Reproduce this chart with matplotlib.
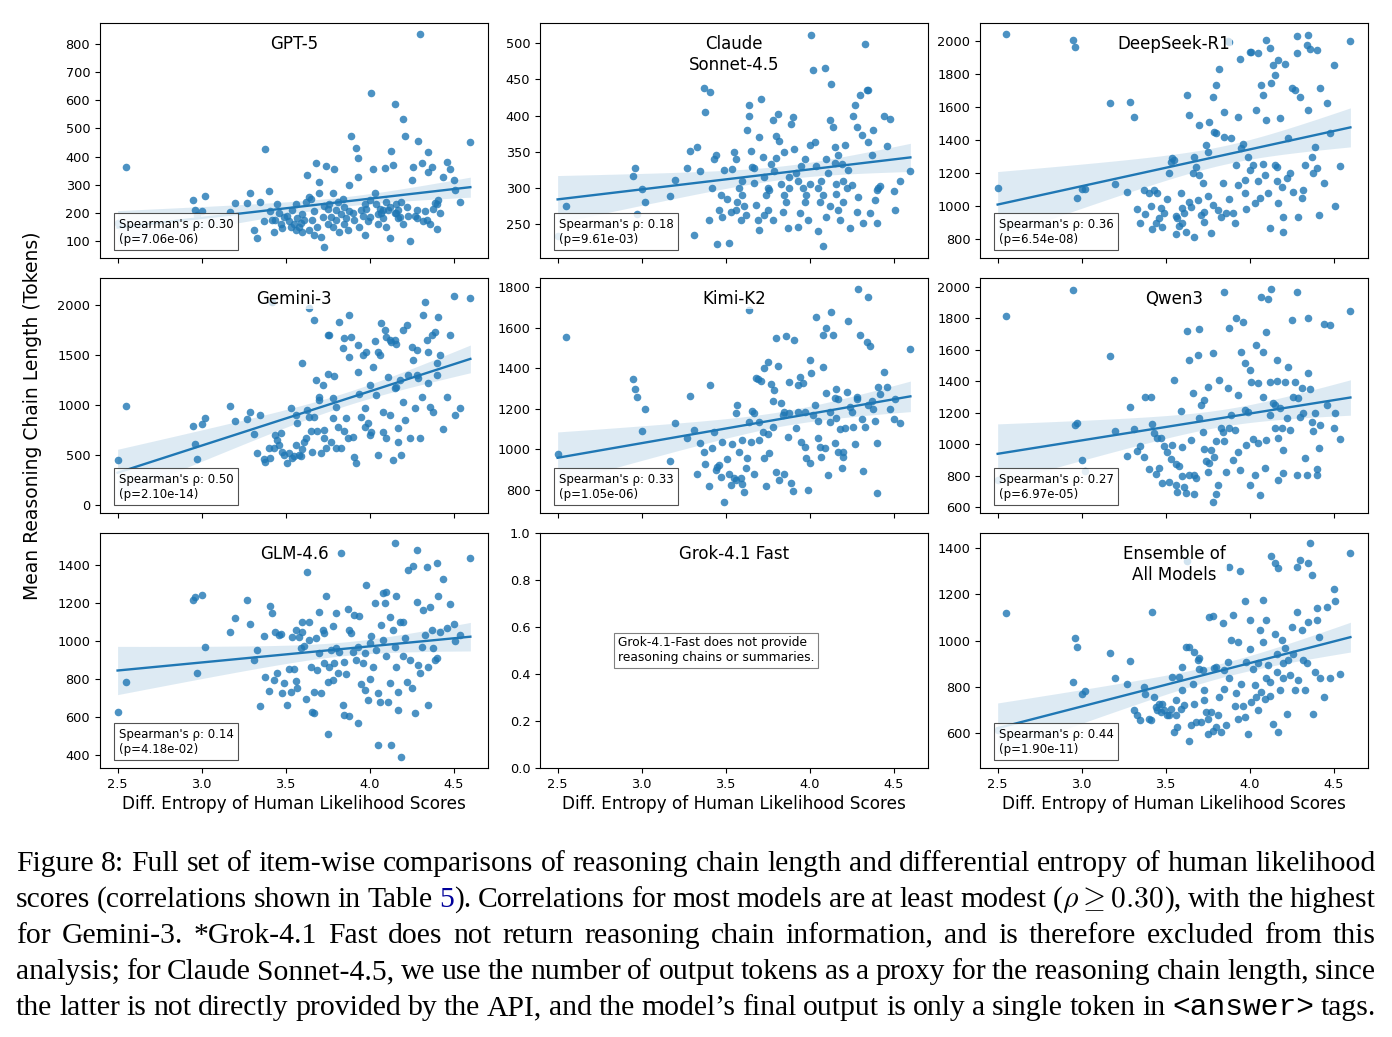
import numpy as np
import matplotlib
matplotlib.use("Agg")
import matplotlib.pyplot as plt

plt.rcParams["mathtext.fontset"] = "cm"

# differential entropy of human likelihood scores, one value per item (shared by all models)
entropy = [
    2.50, 2.55, 2.95, 2.96, 2.97, 3.00, 3.02, 3.17, 3.20, 3.27, 3.29, 3.31,
    3.33, 3.35, 3.37, 3.38, 3.40, 3.41, 3.42, 3.43, 3.44, 3.45, 3.46, 3.47, 3.48, 3.49,
    3.51, 3.52, 3.53, 3.54, 3.55, 3.56, 3.56, 3.57, 3.58, 3.59, 3.60, 3.60, 3.61, 3.62,
    3.63, 3.64, 3.64, 3.65, 3.66, 3.67, 3.67, 3.68, 3.69, 3.70, 3.70, 3.71, 3.72, 3.73, 3.73, 3.74, 3.75, 3.75,
    3.76, 3.77, 3.78, 3.78, 3.79, 3.80, 3.80, 3.81, 3.82, 3.83, 3.84, 3.85, 3.85, 3.86, 3.87, 3.88, 3.88,
    3.89, 3.90, 3.91, 3.92, 3.93, 3.93, 3.94, 3.95, 3.96, 3.97, 3.97, 3.98, 3.99, 4.00, 4.00,
    4.01, 4.02, 4.03, 4.04, 4.05, 4.05, 4.06, 4.07, 4.08, 4.08, 4.09, 4.10, 4.10, 4.11, 4.12, 4.12,
    4.13, 4.14, 4.15, 4.15, 4.16, 4.16, 4.17, 4.17, 4.18, 4.19, 4.20, 4.20, 4.21, 4.22, 4.23, 4.24,
    4.25, 4.26, 4.27, 4.28, 4.28, 4.29, 4.30, 4.31, 4.32, 4.33, 4.34, 4.35, 4.35, 4.36,
    4.37, 4.38, 4.39, 4.40, 4.40, 4.41, 4.42, 4.44, 4.46, 4.48,
    4.50, 4.51, 4.54, 4.60,
]

# mean reasoning chain length (tokens) per item, same order as entropy
gpt5 = [
    165, 362, 246, 210, 192, 207, 261, 201, 234, 236, 272, 139,
    110, 239, 172, 426, 279, 205, 175, 133, 175, 232, 200, 160, 145, 185,
    190, 170, 150, 210, 160, 140, 230, 180, 150, 165, 130, 195, 175, 240,
    335, 255, 140, 250, 175, 205, 120, 376, 150, 311, 270, 113, 185, 78, 225, 367, 160, 215,
    230, 185, 270, 150, 356, 210, 175, 240, 130, 195, 250, 160, 220, 180, 140, 300, 205,
    473, 200, 175, 429, 394, 329, 150, 210, 190, 230, 120, 215, 170, 245, 185,
    625, 355, 270, 230, 195, 160, 215, 200, 210, 180, 358, 240, 150, 210, 220, 110,
    418, 370, 587, 200, 230, 200, 210, 180, 185, 240, 534, 160, 473, 220, 190, 98,
    317, 364, 190, 210, 180, 457, 835, 378, 170, 205, 175, 415, 346, 160,
    364, 215, 233, 141, 230, 246, 200, 326, 382, 355,
    317, 280, 240, 451,
]
claude = [
    233, 275, 316, 328, 264, 298, 281, 289, 311, 328, 351, 235,
    357, 324, 438, 405, 255, 433, 300, 340, 345, 222, 270, 290, 260, 325,
    285, 224, 266, 326, 350, 340, 269, 280, 300, 255, 310, 290, 275, 262,
    380, 415, 400, 351, 329, 328, 307, 276, 256, 242, 371, 423, 343, 262, 315, 290, 270, 300,
    297, 333, 256, 394, 324, 372, 342, 402, 365, 306, 267, 290, 350, 280, 245, 315, 300,
    389, 398, 354, 320, 310, 246, 265, 330, 300, 280, 340, 290, 255, 360, 305,
    512, 463, 364, 330, 241, 300, 280, 310, 219, 290, 466, 340, 260, 320, 394, 275,
    444, 384, 357, 334, 306, 292, 345, 269, 255, 333, 310, 280, 360, 300, 325, 244,
    304, 400, 414, 384, 267, 288, 428, 373, 251, 499, 435, 436, 364, 265,
    345, 380, 283, 251, 297, 300, 303, 400, 358, 395,
    296, 270, 310, 324,
]
deepseek = [
    1107, 2042, 2006, 1966, 1046, 1101, 1101, 1622, 1133, 1087, 1632, 1537,
    980, 900, 1100, 950, 1080, 1000, 860, 1100, 900, 1080, 930, 990, 870, 960,
    1040, 1198, 1269, 1289, 1279, 940, 830, 930, 880, 1080, 990, 900, 960, 840,
    1673, 1551, 1026, 996, 1198, 814, 1299, 1238, 1036, 1188, 1491, 945, 1137, 966, 905, 1370, 1329, 1060,
    1511, 834, 1006, 1663, 1446, 1440, 1733, 976, 1828, 935, 1137, 1572, 1420, 960, 2002, 1992, 1040,
    1410, 955, 895, 1248, 1541, 1127, 1891, 1350, 1376, 1160, 1080, 980, 1300, 1931, 1220,
    1931, 1248, 1016, 1582, 1925, 1150, 1050, 1733, 1673, 1255, 1188, 1521, 2006, 1077, 865, 1956,
    1743, 1854, 1794, 1250, 1150, 1238, 1020, 1885, 1531, 1117, 931, 844, 1861, 1172, 1410, 1200,
    1717, 1087, 1703, 1925, 2030, 935, 1659, 1050, 1100, 1250, 1976, 1582, 2036, 1949,
    1300, 1200, 1360, 1228, 1945, 945, 1713, 1137, 1622, 1444,
    1854, 1000, 1242, 2002,
]
gemini = [
    450, 990, 790, 610, 457, 810, 867, 990, 840, 860, 933, 707,
    523, 900, 460, 430, 567, 470, 2030, 567, 700, 650, 600, 723, 533, 500,
    420, 520, 967, 470, 490, 600, 900, 817, 500, 490, 560, 1417, 630, 670,
    950, 883, 1967, 740, 533, 1850, 883, 1250, 740, 1083, 1050, 517, 1200, 750, 667, 567, 1700, 1307,
    1700, 633, 867, 1067, 1293, 567, 983, 783, 1833, 567, 1573, 1667, 740, 867, 667, 1900, 1480,
    1683, 683, 483, 417, 1333, 1600, 1107, 883, 1500, 783, 967, 1533, 817, 700, 1200,
    733, 1383, 1643, 1100, 1527, 500, 1500, 1817, 733, 933, 1750, 1683, 667, 1283, 1650, 900,
    1633, 450, 1167, 1650, 1607, 1180, 633, 767, 1250, 500, 1033, 1750, 850, 1800, 1300, 667,
    1583, 1450, 967, 1550, 1300, 1267, 667, 1083, 1900, 2033, 1650, 1533, 1217, 983,
    1700, 933, 1733, 1417, 1300, 1883, 1500, 760, 1083, 1700,
    2093, 900, 973, 2067,
]
kimi = [
    976, 1552, 1345, 1298, 1257, 1091, 1197, 943, 1132, 1055, 1265, 1096,
    879, 1030, 989, 926, 821, 1317, 1005, 1087, 899, 915, 923, 866, 1038, 743,
    955, 880, 825, 1029, 857, 1180, 850, 1218, 988, 857, 832, 1046, 792, 910,
    959, 1687, 1137, 1038, 1189, 1178, 877, 1350, 1347, 1137, 1046, 1337, 1087, 959, 1399, 821, 1429, 1074,
    981, 1320, 1112, 1238, 1293, 1550, 890, 1412, 850, 1227, 1169, 1186, 877, 1559, 1059, 1178, 1334,
    833, 797, 1539, 1104, 1317, 1186, 1358, 1038, 1325, 1186, 1010, 956, 800, 931, 1440,
    1375, 1169, 1219, 1651, 1055, 1140, 1013, 964, 1408, 1564, 1005, 1596, 1276, 874, 1186, 1137,
    1678, 1564, 1252, 1030, 1153, 1300, 989, 1250, 1099, 910, 989, 964, 1104, 1284, 1634, 1210,
    1186, 1112, 1025, 1260, 1250, 1790, 1564, 1150, 894, 1112, 1531, 1752, 1219, 1511,
    1238, 1200, 1141, 784, 1033, 1309, 1273, 1383, 1309, 1200,
    1150, 1250, 1132, 1493,
]
qwen = [
    772, 1818, 1981, 1122, 1137, 900, 829, 1563, 1084, 925, 1239, 1097,
    956, 986, 920, 1298, 842, 1302, 1128, 1069, 808, 1039, 850, 1039, 751, 990,
    948, 761, 905, 996, 1408, 740, 873, 698, 859, 1213, 984, 800, 730, 690,
    1720, 1535, 804, 1027, 1323, 681, 804, 787, 1567, 1733, 1169, 1249, 1079, 967, 1281, 893, 825, 1366,
    878, 965, 634, 1582, 920, 683, 1022, 740, 1408, 1101, 1079, 1022, 1970, 825, 1355, 1741, 1101,
    1186, 899, 1090, 1805, 1311, 952, 836, 1589, 1779, 1519, 1217, 995, 1207, 1472, 740,
    1398, 1033, 804, 1631, 1387, 1005, 677, 1938, 1298, 1589, 846, 1027, 1716, 1924, 1186, 1398,
    1987, 1260, 1250, 1101, 1400, 1535, 772, 1037, 1228, 1101, 963, 814, 1398, 1164, 1493, 1090,
    1790, 1300, 1398, 804, 1966, 1292, 1175, 1355, 1200, 910, 804, 1801, 1451, 1350,
    1143, 1086, 1200, 840, 804, 973, 1122, 1762, 1250, 1758,
    1100, 1200, 1033, 1849,
]
glm = [
    628, 783, 1216, 1233, 830, 1242, 970, 1046, 1119, 1216, 1090, 900,
    953, 658, 1026, 812, 737, 1184, 1146, 795, 1049, 833, 1032, 1037, 725, 780,
    663, 851, 733, 1019, 851, 791, 1058, 751, 1019, 961, 1049, 1097, 974, 693,
    1365, 1102, 1005, 861, 628, 733, 619, 1014, 847, 935, 1154, 728, 1058, 882, 1040, 1237, 786, 509,
    865, 953, 1079, 795, 886, 1149, 961, 830, 944, 1461, 663, 611, 891, 825, 1170, 605, 1058,
    1044, 944, 1137, 900, 570, 970, 1132, 774, 882, 742, 935, 1295, 690, 988, 800,
    1026, 861, 1202, 953, 453, 728, 676, 1084, 1251, 1005, 1202, 918, 1260, 676, 1124, 777,
    453, 1058, 1514, 970, 865, 1237, 637, 733, 1097, 391, 1102, 918, 1014, 786, 1374, 900,
    751, 1395, 623, 1207, 1479, 874, 830, 970, 1163, 1032, 1388, 663, 865, 1177,
    1058, 961, 900, 1409, 909, 1237, 1049, 1325, 1070, 1195,
    1090, 1000, 1032, 1439,
]
ensemble = [
    614, 1118, 821, 1012, 970, 771, 782, 947, 836, 814, 911, 701,
    677, 658, 800, 771, 659, 655, 1125, 756, 713, 698, 727, 691, 724, 698,
    677, 677, 706, 843, 603, 677, 742, 626, 843, 706, 884, 785, 720, 973,
    1342, 970, 565, 633, 814, 951, 727, 648, 915, 923, 879, 648, 872, 742, 785, 691, 597, 660,
    1103, 691, 611, 1106, 882, 626, 886, 677, 756, 604, 1075, 872, 792, 637, 908, 1320, 840,
    1002, 1111, 717, 774, 662, 995, 1299, 814, 716, 669, 1173, 908, 594, 962, 1089,
    735, 879, 807, 756, 698, 901, 1046, 777, 995, 1176, 749, 1089, 836, 893, 820, 760,
    1364, 640, 1028, 1335, 944, 865, 604, 1313, 785, 1002, 836, 901, 966, 684, 915, 850,
    1060, 944, 785, 1320, 1125, 829, 1349, 1046, 915, 785, 901, 1082, 1335, 1422,
    1284, 684, 865, 1089, 1140, 1017, 836, 756, 1147, 836,
    1222, 1169, 857, 1378,
]

titles = ["GPT-5", "Claude\nSonnet-4.5", "DeepSeek-R1", "Gemini-3", "Kimi-K2", "Qwen3",
          "GLM-4.6", "Grok-4.1 Fast", "Ensemble of\nAll Models"]
series = [gpt5, claude, deepseek, gemini, kimi, qwen, glm, None, ensemble]
rhos = ["0.30", "0.18", "0.36", "0.50", "0.33", "0.27", "0.14", None, "0.44"]
pvals = ["7.06e-06", "9.61e-03", "6.54e-08", "2.10e-14", "1.05e-06", "6.97e-05",
         "4.18e-02", None, "1.90e-11"]
ylims = [(39, 875), (203, 528), (685, 2109), (-80, 2270), (687, 1844), (562, 2057),
         (331, 1568), (0, 1), (449, 1465)]

caption = [
    "Figure 8: Full set of item-wise comparisons of reasoning chain length and differential entropy of human likelihood".split(),
    "scores (correlations shown in Table".split()
    + [[("5", "link"), (").", None)]]
    + "Correlations for most models are at least modest".split()
    + [[("(", None), (r"$\rho \geq 0.30$", None), ("),", None)]]
    + "with the highest".split(),
    "for Gemini-3.  *Grok-4.1 Fast does not return reasoning chain information, and is therefore excluded from this".split(),
    "analysis; for Claude Sonnet-4.5, we use the number of output tokens as a proxy for the reasoning chain length, since".split(),
    "the latter is not directly provided by the API, and the model\u2019s final output is only a single token in".split()
    + [[("<answer>", "mono")], "tags."],
]

x = np.array(entropy)
blue = "#1f77b4"

fig, axes = plt.subplots(3, 3, figsize=(13.92, 10.37), dpi=100, sharex=True)
fig.subplots_adjust(left=0.0718, right=0.9828, top=0.9778, bottom=0.2594,
                    wspace=0.134, hspace=0.085)

for ax, title, y, rho, p, ylim in zip(axes.flat, titles, series, rhos, pvals, ylims):
    if y is not None:
        y = np.array(y, dtype=float)
        ax.scatter(x, y, s=30, color=blue, alpha=0.8, linewidths=0, zorder=2)
        # linear fit with 95% confidence band
        b, a = np.polyfit(x, y, 1)
        n = len(x)
        resid = y - (a + b * x)
        s = np.sqrt(np.sum(resid ** 2) / (n - 2))
        grid = np.linspace(x.min(), x.max(), 100)
        fit = a + b * grid
        se = s * np.sqrt(1 / n + (grid - x.mean()) ** 2 / np.sum((x - x.mean()) ** 2))
        ax.fill_between(grid, fit - 1.97 * se, fit + 1.97 * se, color=blue, alpha=0.15,
                        linewidth=0, zorder=3)
        ax.plot(grid, fit, color=blue, lw=1.7, zorder=4)
        ax.text(0.048, 0.053, f"Spearman's \u03c1: {rho}\n(p={p})", transform=ax.transAxes,
                fontsize=8.5, ha="left", va="bottom", zorder=6,
                bbox=dict(boxstyle="square,pad=0.4", facecolor="white", edgecolor="#333333",
                          alpha=0.85, linewidth=0.8))
    else:
        ax.text(0.2, 0.5, "Grok-4.1-Fast does not provide\nreasoning chains or summaries.",
                transform=ax.transAxes, fontsize=8.8, ha="left", va="center",
                bbox=dict(boxstyle="square,pad=0.3", facecolor="white", edgecolor="gray",
                          linewidth=0.8))
    ax.text(0.5, 0.95, title, transform=ax.transAxes, ha="center", va="top",
            fontsize=12, multialignment="center", zorder=5,
            bbox=dict(boxstyle="square,pad=0.1", facecolor="white", edgecolor="none", alpha=0.75))
    ax.set_ylim(*ylim)
    ax.set_xlim(2.395, 4.705)
    ax.tick_params(labelsize=9.3)

for ax in axes[2]:
    ax.set_xlabel("Diff. Entropy of Human Likelihood Scores", fontsize=12.2, labelpad=3)

fig.text(0.023, 0.599, "Mean Reasoning Chain Length (Tokens)", rotation=90,
         ha="center", va="center", fontsize=13.5)

# justified caption, placed word by word
W = 1392
H = 1037
renderer = fig.canvas.get_renderer()
x0, x1 = 16, 1376
baselines = [871, 907, 943, 979, 1015]
styles = {
    None: dict(family="Liberation Serif", color="black"),
    "link": dict(family="Liberation Serif", color="#00009a"),
    "mono": dict(family=["Liberation Mono", "DejaVu Sans Mono"], color="black"),
}
for words, base in zip(caption, baselines):
    yy = 1 - base / H
    placed = []
    total = 0
    for word in words:
        segs = word if isinstance(word, list) else [(word, None)]
        parts = []
        for txt, st in segs:
            t = fig.text(0, yy, txt, fontsize=21.3, va="baseline", ha="left", **styles[st])
            w = t.get_window_extent(renderer).width
            parts.append((t, w))
            total += w
        placed.append(parts)
    gap = (x1 - x0 - total) / (len(placed) - 1)
    xpos = x0
    for parts in placed:
        for t, w in parts:
            t.set_x(xpos / W)
            xpos += w
        xpos += gap

fig.savefig("out.png", dpi=100)
